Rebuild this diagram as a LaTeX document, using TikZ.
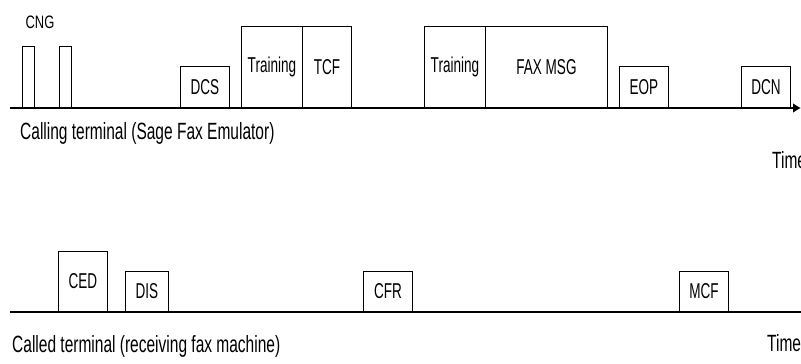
\documentclass[tikz,border=0pt]{standalone}
\usepackage{fontspec}
\setmainfont{Liberation Sans}
\newfontfamily\boxf[FakeStretch=0.63]{Liberation Sans}
\newfontfamily\sidef[FakeStretch=0.66]{Liberation Sans}
\newfontfamily\cngf[FakeStretch=0.72]{Liberation Sans}
\usetikzlibrary{arrows.meta}
\begin{document}
\begin{tikzpicture}[x=1pt,y=-1pt,
  sig/.style={draw=black, line width=0.9pt, fill=white, inner sep=0pt, anchor=south west,
    font=\boxf\fontsize{21.5}{21.5}\selectfont},
  axis/.style={line width=1.5pt, -{Latex[length=8pt,width=10pt]}},
  side/.style={anchor=west, inner sep=0pt, font=\sidef\fontsize{23.5}{23.5}\selectfont},
  timel/.style={anchor=west, inner sep=0pt, font=\sidef\fontsize{23.5}{23.5}\selectfont}]
\useasboundingbox (0,0) rectangle (801,364);
\clip (0,0) rectangle (801,364);
% top timeline
\coordinate (ts) at (10,108);
\coordinate (te) at (801,108);
\draw[axis] (ts) -- (te);
\node[sig, minimum width=12, minimum height=61] (cng1) at (22,108) {};
\node[sig, minimum width=12, minimum height=61] (cng2) at (59,108) {};
\node[inner sep=0pt, font=\cngf\fontsize{18}{18}\selectfont] (cng) at (40,22) {CNG};
\node[sig, minimum width=49, minimum height=41] (dcs) at (180,108) {DCS};
\node[sig, minimum width=61, minimum height=81] (tr1) at (241,108) {Training};
\node[sig, minimum width=49, minimum height=81] (tcf) at (302,108) {TCF};
\node[sig, minimum width=61, minimum height=81] (tr2) at (424,108) {Training};
\node[sig, minimum width=122, minimum height=81] (fax) at (485,108) {FAX MSG};
\node[sig, minimum width=49, minimum height=41] (eop) at (619,108) {EOP};
\node[sig, minimum width=49, minimum height=41] (dcn) at (741,108) {DCN};
\node[side] (calling) at (20,133) {Calling terminal (Sage Fax Emulator)};
\node[timel] (time1) at (772,160) {Time};
% bottom timeline
\coordinate (bs) at (10,312);
\coordinate (be) at (809,312);
\draw[axis] (bs) -- (be);
\node[sig, minimum width=49, minimum height=60] (ced) at (58,312) {CED};
\node[sig, minimum width=43, minimum height=40] (dis) at (125,312) {DIS};
\node[sig, minimum width=49, minimum height=40] (cfr) at (363,312) {CFR};
\node[sig, minimum width=49, minimum height=40] (mcf) at (679,312) {MCF};
\node[side] (called) at (12,346) {Called terminal (receiving fax machine)};
\node[timel] (time2) at (767,343) {Time};
\end{tikzpicture}
\end{document}
